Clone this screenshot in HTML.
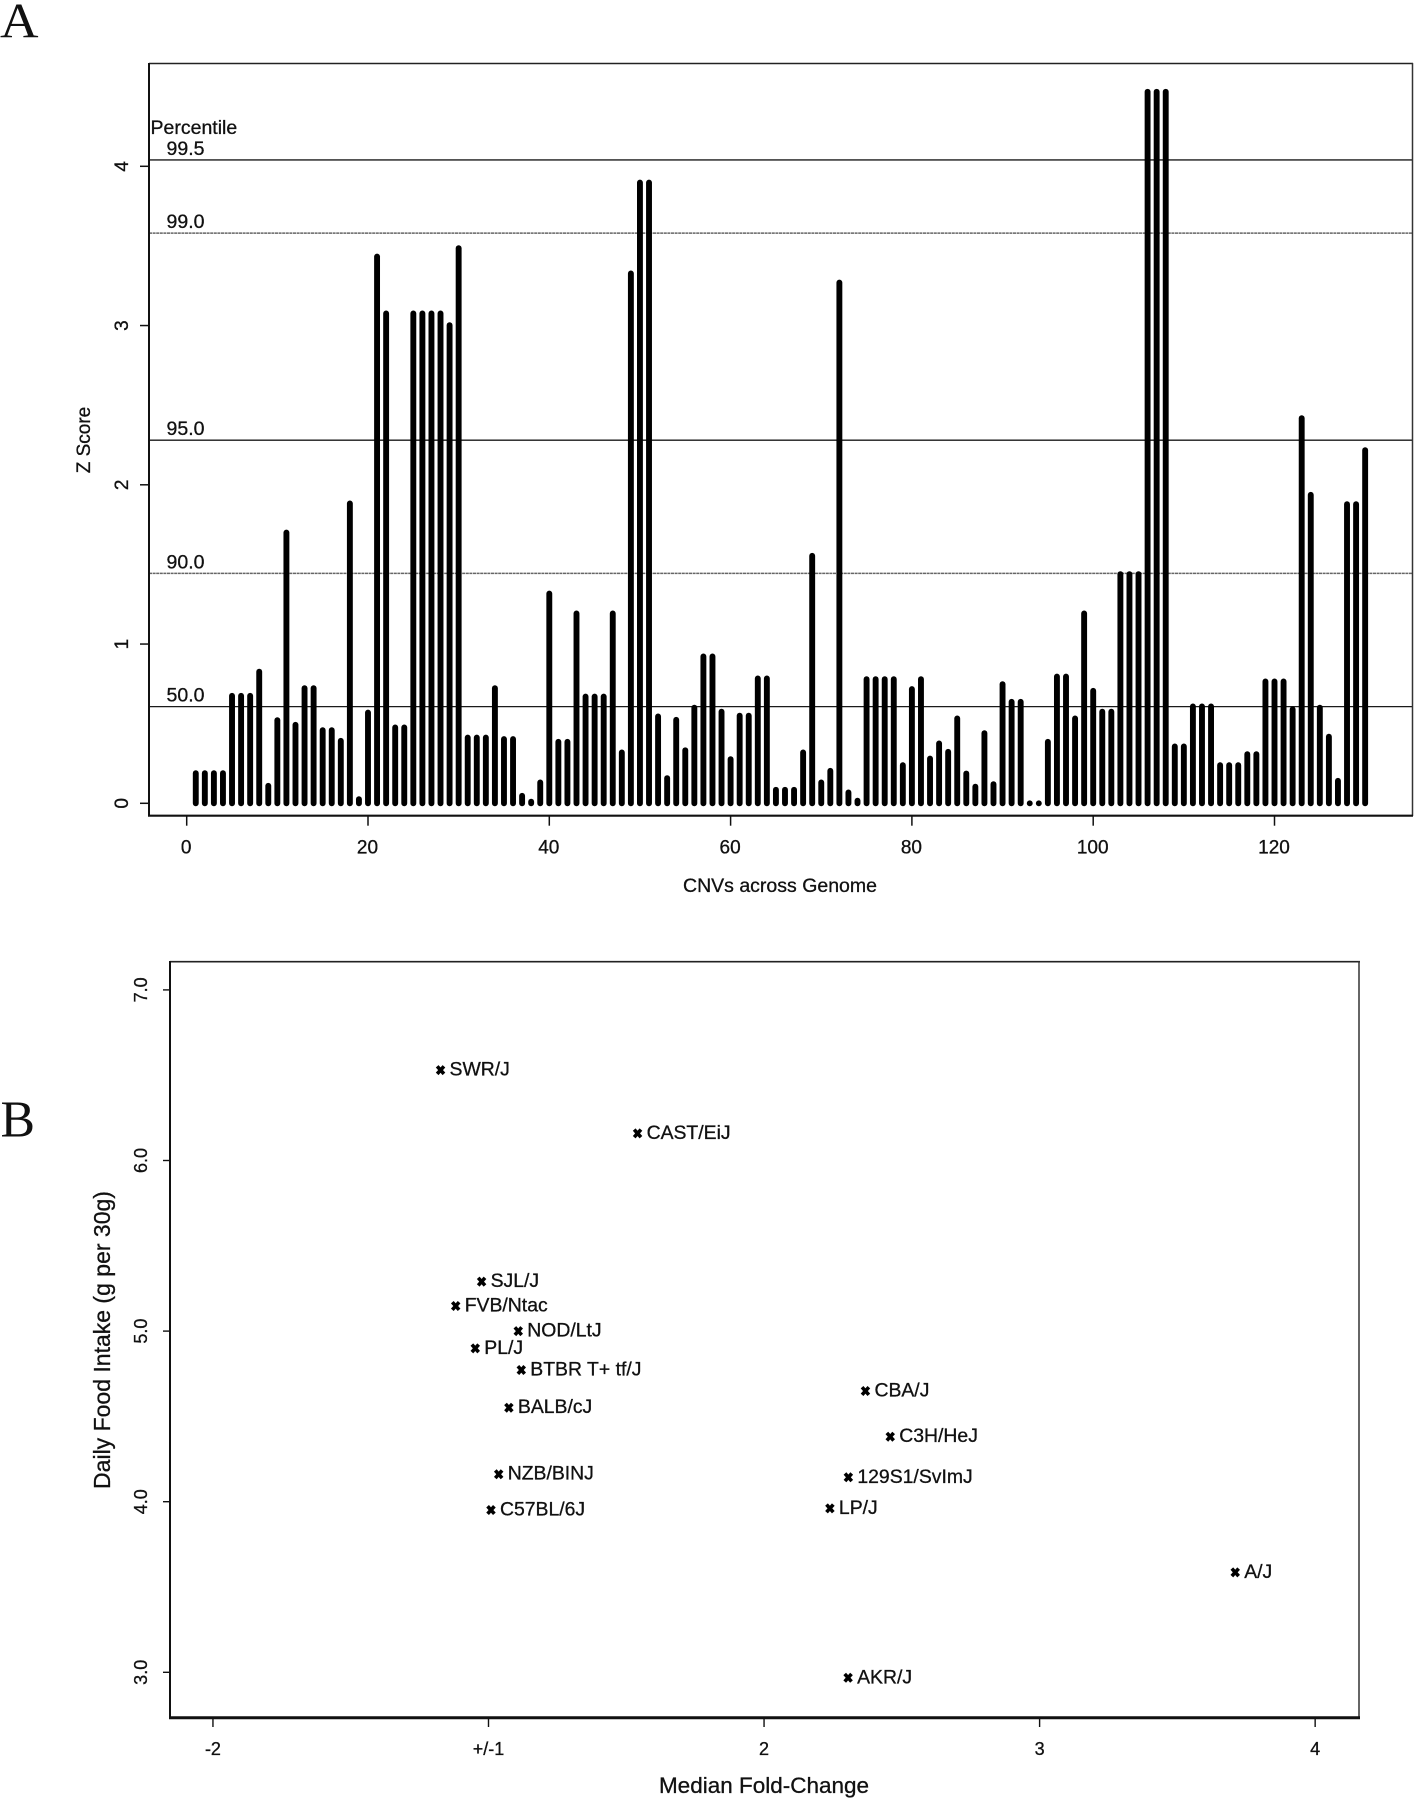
<!DOCTYPE html>
<html lang="en">
<head>
<meta charset="utf-8">
<title>CNV Z scores and food intake</title>
<style>
html,body{margin:0;padding:0;background:#fff;width:1415px;height:1800px;overflow:hidden}
svg{display:block}
text{font-family:"Liberation Sans",sans-serif;fill:#111;stroke:#111;stroke-width:0.3px}
.panel-letter{font-family:"Liberation Serif",serif;stroke-width:0}
</style>
</head>
<body>
<svg id="figure" xmlns="http://www.w3.org/2000/svg" width="1415" height="1800" viewBox="0 0 1415 1800">
  <rect x="0" y="0" width="1415" height="1800" fill="#fff"/>

  <text class="panel-letter" x="0" y="37.5" font-size="50" textLength="38.5" lengthAdjust="spacingAndGlyphs">A</text>
  <text class="panel-letter" x="0.5" y="1136.5" font-size="52" textLength="34.5" lengthAdjust="spacingAndGlyphs">B</text>

  <g id="chartA">
    <g id="percentileLines"></g>
    <g id="bars"></g>
    <g id="axesA"></g>
    <line x1="149" y1="63.5" x2="1413" y2="63.5" stroke="#222" stroke-width="1.5"/>
    <line x1="1412.5" y1="63" x2="1412.5" y2="816" stroke="#333" stroke-width="1.5"/>
    <line x1="149" y1="63" x2="149" y2="816" stroke="#111" stroke-width="2"/>
    <line x1="148" y1="815.7" x2="1413" y2="815.7" stroke="#111" stroke-width="2.2"/>
    <text x="150.5" y="134" font-size="19.5">Percentile</text>
    <text x="780" y="892" font-size="19.5" text-anchor="middle">CNVs across Genome</text>
    <text transform="translate(90,440) rotate(-90)" font-size="19" text-anchor="middle">Z Score</text>
  </g>

  <g id="chartB">
    <g id="axesB"></g>
    <g id="points"></g>
    <line x1="170" y1="961.7" x2="1360" y2="961.7" stroke="#222" stroke-width="1.6"/>
    <line x1="1359" y1="961" x2="1359" y2="1718" stroke="#333" stroke-width="1.5"/>
    <line x1="170" y1="961" x2="170" y2="1718" stroke="#111" stroke-width="2"/>
    <line x1="169" y1="1717.7" x2="1360" y2="1717.7" stroke="#111" stroke-width="3"/>
    <text x="764" y="1793" font-size="22.5" text-anchor="middle">Median Fold-Change</text>
    <text transform="translate(110,1340) rotate(-90)" font-size="23" text-anchor="middle">Daily Food Intake (g per 30g)</text>
  </g>
</svg>

<script>
// ---- Panel A data ----
const cnvZScores = [
  0.189,0.189,0.189,0.189,0.675,0.675,0.675,0.826,0.11,0.522,
  1.70,0.493,0.723,0.723,0.459,0.459,0.392,1.883,0.026,0.57,
  3.433,3.076,0.476,0.476,3.076,3.076,3.076,3.076,3.002,3.486,
  0.413,0.413,0.413,0.723,0.403,0.403,0.047,0.01,0.131,1.317,
  0.386,0.386,1.192,0.67,0.67,0.67,1.192,0.319,3.327,3.898,
  3.898,0.545,0.158,0.524,0.333,0.6,0.922,0.922,0.575,0.277,
  0.55,0.55,0.784,0.784,0.085,0.085,0.085,0.319,1.554,0.131,
  0.204,3.27,0.068,0.016,0.779,0.779,0.779,0.779,0.239,0.717,
  0.779,0.281,0.376,0.323,0.533,0.187,0.104,0.44,0.12,0.748,
  0.637,0.637,0,0,0.386,0.796,0.796,0.533,1.192,0.706,
  0.575,0.575,1.439,1.439,1.439,4.468,4.468,4.468,0.357,0.357,
  0.608,0.608,0.608,0.239,0.239,0.239,0.308,0.308,0.765,0.765,
  0.765,0.59,2.418,1.937,0.60,0.418,0.141,1.878,1.878,2.217
];
const percentileNames = ["99.5","99.0","95.0","90.0","50.0"];
const percentileValues = [4.04,3.58,2.28,1.444,0.607];
const xTicksA = [0,20,40,60,80,100,120];
const yTicksA = [0,1,2,3,4];

// ---- Panel B data ----
const strainNames = ["SWR/J","CAST/EiJ","SJL/J","FVB/Ntac","NOD/LtJ","PL/J","BTBR T+ tf/J","BALB/cJ","CBA/J","C3H/HeJ","129S1/SvImJ","LP/J","A/J","AKR/J","NZB/BINJ","C57BL/6J"];
const strainFoldChange = [0.826,1.541,0.975,0.881,1.108,0.952,1.119,1.074,2.368,2.458,2.306,2.239,3.710,2.305,1.037,1.009];
const strainFoodIntake = [6.530,6.159,5.290,5.147,5.0,4.899,4.772,4.551,4.649,4.381,4.143,3.961,3.586,2.968,4.161,3.951];
const xTickValuesB = [0,1,2,3,4];
const xTickLabelsB = ["-2","+/-1","2","3","4"];
const yTicksB = [3,4,5,6,7];
const yTickLabelsB = ["3.0","4.0","5.0","6.0","7.0"];

// ---- Axis functions ----
function xA(v){return 186.7+9.065*v;}
function yA(v){return 803.3-159.25*v;}
function xB(v){return 488.5+275.55*(v-1);}
function yB(v){return 1672.3-170.6*(v-3);}

const NS = "http://www.w3.org/2000/svg";
function addLine(parent,x1,y1,x2,y2,color,width){
  const el = document.createElementNS(NS,"line");
  el.setAttribute("x1",x1);
  el.setAttribute("y1",y1);
  el.setAttribute("x2",x2);
  el.setAttribute("y2",y2);
  el.setAttribute("stroke",color);
  el.setAttribute("stroke-width",width);
  parent.appendChild(el);
  return el;
}
function addText(parent,x,y,str,size,anchor,rotate){
  const el = document.createElementNS(NS,"text");
  if(rotate){
    el.setAttribute("transform","translate("+x+","+y+") rotate(-90)");
  }else{
    el.setAttribute("x",x);
    el.setAttribute("y",y);
  }
  el.setAttribute("font-size",size);
  el.setAttribute("text-anchor",anchor);
  el.textContent = str;
  parent.appendChild(el);
  return el;
}

// ---- Panel A drawing ----
const gLines = document.getElementById("percentileLines");
percentileValues.forEach(function(v,i){
  const faint = percentileNames[i]==="99.0" || percentileNames[i]==="90.0";
  const line = addLine(gLines,149,yA(v),1412.5,yA(v),faint?"#666":"#1a1a1a",faint?1.5:1.3);
  if(faint){
    line.setAttribute("stroke-dasharray","3 0.6");
  }
  
  
  const label = addText(gLines,166.5,yA(v)-5,percentileNames[i],19.5,"start",false);
  
  
});

const gBars = document.getElementById("bars");
cnvZScores.forEach(function(v,i){
  const bar = addLine(gBars,xA(i+1),yA(0),xA(i+1),yA(v),"#000",5.9);
  bar.setAttribute("stroke-linecap","round");
  
  
});

const gAxesA = document.getElementById("axesA");
xTicksA.forEach(function(v){
  const tick = addLine(gAxesA,xA(v),816,xA(v),825.7,"#111",1.5);
  
  
  const label = addText(gAxesA,xA(v)-0.5,853.3,String(v),19,"middle",false);
  
  
});
yTicksA.forEach(function(v){
  const tick = addLine(gAxesA,140,yA(v),149,yA(v),"#111",1.5);
  
  
  const label = addText(gAxesA,128,yA(v),String(v),19,"middle",true);
  
  
});

// ---- Panel B drawing ----
const gAxesB = document.getElementById("axesB");
xTickValuesB.forEach(function(v,i){
  const tick = addLine(gAxesB,xB(v),1718,xB(v),1727,"#111",1.4);
  
  
  const label = addText(gAxesB,xB(v),1755,xTickLabelsB[i],18,"middle",false);
  
  
});
yTicksB.forEach(function(v,i){
  const tick = addLine(gAxesB,163,yB(v),170,yB(v),"#111",1.4);
  
  
  const label = addText(gAxesB,147,yB(v),yTickLabelsB[i],18,"middle",true);
  
  
});

const gPoints = document.getElementById("points");
strainNames.forEach(function(name,i){
  const cx = xB(strainFoldChange[i]);
  const cy = yB(strainFoodIntake[i]);
  const group = document.createElementNS(NS,"g");
  
  
  addLine(group,cx-3.4,cy-3.8,cx+3.4,cy+3.8,"#000",3.6);
  addLine(group,cx-3.4,cy+3.8,cx+3.4,cy-3.8,"#000",3.6);
  gPoints.appendChild(group);
  const label = addText(gPoints,cx+9,cy+5.5,name,19.4,"start",false);
  
  
});
</script>
</body>
</html>
